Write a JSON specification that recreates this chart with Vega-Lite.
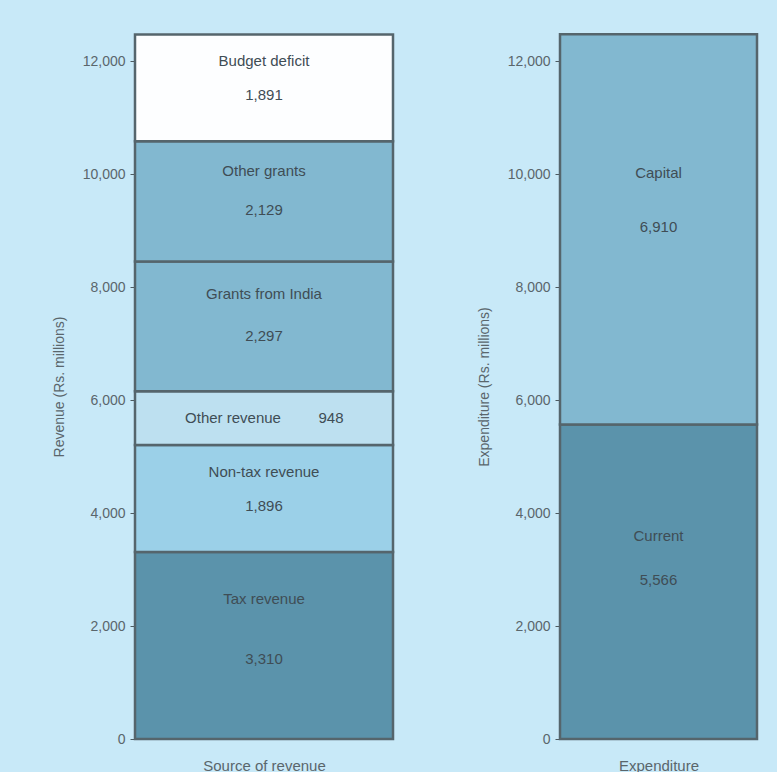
{
  "$schema": "https://vega.github.io/schema/vega-lite/v6.json",
  "background": "#c8e9f8",
  "padding": {"left": 52, "top": 32, "right": 21, "bottom": 0},
  "spacing": 82,
  "resolve": {"scale": {"color": "independent"}},
  "config": {
    "font": "Liberation Sans",
    "view": {"stroke": null},
    "axis": {
      "labelFont": "Liberation Sans",
      "titleFont": "Liberation Sans",
      "labelFontSize": 14,
      "titleFontSize": 14,
      "titleFontWeight": "normal",
      "labelColor": "#5a666c",
      "titleColor": "#5a666c",
      "domainColor": "#8a9aa2",
      "tickColor": "#4d5a60",
      "grid": false
    }
  },
  "datasets": {
    "revenue": [
      {"source": "Tax revenue", "amount": 3310, "rank": 1},
      {"source": "Non-tax revenue", "amount": 1896, "rank": 2},
      {"source": "Other revenue", "amount": 948, "rank": 3},
      {"source": "Grants from India", "amount": 2297, "rank": 4},
      {"source": "Other grants", "amount": 2129, "rank": 5},
      {"source": "Budget deficit", "amount": 1891, "rank": 6}
    ],
    "spending": [
      {"type": "Current", "amount": 5566, "rank": 1},
      {"type": "Capital", "amount": 6910, "rank": 2}
    ]
  },
  "hconcat": [
    {
      "width": 258,
      "height": 705,
      "data": {"name": "revenue"},
      "transform": [
        {"calculate": "'Source of revenue'", "as": "panel"},
        {"stack": "amount", "groupby": ["panel"], "sort": [{"field": "rank"}], "as": ["y0", "y1"]},
        {"calculate": "datum.y1 - 0.25 * datum.amount", "as": "nameAt"},
        {"calculate": "datum.y1 - 0.57 * datum.amount", "as": "valueAt"},
        {"calculate": "(datum.y0 + datum.y1) / 2", "as": "midAt"}
      ],
      "encoding": {
        "x": {
          "field": "panel", "type": "nominal",
          "scale": {"paddingInner": 0, "paddingOuter": 0},
          "axis": {"labels": false, "ticks": false, "domain": false, "title": "Source of revenue", "titlePadding": 19, "titleFontSize": 15}
        }
      },
      "layer": [
        {
          "mark": {"type": "bar", "stroke": "#55656c", "strokeWidth": 2.5},
          "encoding": {
            "y": {
              "field": "y0", "type": "quantitative",
              "scale": {"domain": [0, 12480], "nice": false},
              "axis": {"title": "Revenue (Rs. millions)", "values": [0, 2000, 4000, 6000, 8000, 10000, 12000], "format": ",d", "tickSize": 5, "labelPadding": 5, "titlePadding": 16}
            },
            "y2": {"field": "y1"},
            "color": {
              "field": "source", "type": "nominal", "legend": null,
              "scale": {
                "domain": ["Tax revenue", "Non-tax revenue", "Other revenue", "Grants from India", "Other grants", "Budget deficit"],
                "range": ["#5b93ab", "#9bd0e8", "#bde0f0", "#82b8d0", "#82b8d0", "#fdfeff"]
              }
            }
          }
        },
        {
          "transform": [{"filter": "datum.source !== 'Other revenue'"}],
          "mark": {"type": "text", "fontSize": 15, "color": "#3f4d55", "baseline": "middle"},
          "encoding": {"y": {"field": "nameAt", "type": "quantitative"}, "text": {"field": "source"}}
        },
        {
          "transform": [{"filter": "datum.source !== 'Other revenue'"}],
          "mark": {"type": "text", "fontSize": 15, "color": "#3f4d55", "baseline": "middle"},
          "encoding": {"y": {"field": "valueAt", "type": "quantitative"}, "text": {"field": "amount", "format": ",d"}}
        },
        {
          "transform": [{"filter": "datum.source === 'Other revenue'"}],
          "mark": {"type": "text", "fontSize": 15, "color": "#3f4d55", "baseline": "middle", "dx": -31},
          "encoding": {"y": {"field": "midAt", "type": "quantitative"}, "text": {"field": "source"}}
        },
        {
          "transform": [{"filter": "datum.source === 'Other revenue'"}],
          "mark": {"type": "text", "fontSize": 15, "color": "#3f4d55", "baseline": "middle", "dx": 67},
          "encoding": {"y": {"field": "midAt", "type": "quantitative"}, "text": {"field": "amount", "format": ",d"}}
        }
      ]
    },
    {
      "width": 197,
      "height": 705,
      "data": {"name": "spending"},
      "transform": [
        {"calculate": "'Expenditure'", "as": "panel"},
        {"stack": "amount", "groupby": ["panel"], "sort": [{"field": "rank"}], "as": ["y0", "y1"]},
        {"calculate": "datum.y1 - 0.355 * datum.amount", "as": "nameAt"},
        {"calculate": "datum.y1 - 0.495 * datum.amount", "as": "valueAt"}
      ],
      "encoding": {
        "x": {
          "field": "panel", "type": "nominal",
          "scale": {"paddingInner": 0, "paddingOuter": 0},
          "axis": {"labels": false, "ticks": false, "domain": false, "title": "Expenditure", "titlePadding": 19, "titleFontSize": 15}
        }
      },
      "layer": [
        {
          "mark": {"type": "bar", "stroke": "#55656c", "strokeWidth": 2.5},
          "encoding": {
            "y": {
              "field": "y0", "type": "quantitative",
              "scale": {"domain": [0, 12480], "nice": false},
              "axis": {"title": "Expenditure (Rs. millions)", "values": [0, 2000, 4000, 6000, 8000, 10000, 12000], "format": ",d", "tickSize": 5, "labelPadding": 5, "titlePadding": 16}
            },
            "y2": {"field": "y1"},
            "color": {
              "field": "type", "type": "nominal", "legend": null,
              "scale": {"domain": ["Current", "Capital"], "range": ["#5b93ab", "#82b8d0"]}
            }
          }
        },
        {
          "mark": {"type": "text", "fontSize": 15, "color": "#3f4d55", "baseline": "middle"},
          "encoding": {"y": {"field": "nameAt", "type": "quantitative"}, "text": {"field": "type"}}
        },
        {
          "mark": {"type": "text", "fontSize": 15, "color": "#3f4d55", "baseline": "middle"},
          "encoding": {"y": {"field": "valueAt", "type": "quantitative"}, "text": {"field": "amount", "format": ",d"}}
        }
      ]
    }
  ]
}
